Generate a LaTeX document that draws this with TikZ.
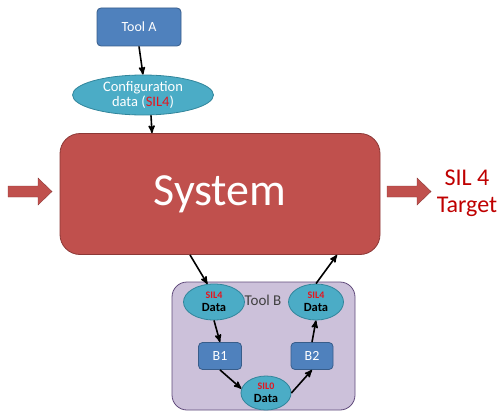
\documentclass[tikz,border=0pt]{standalone}
\usepackage{fontspec}
\setmainfont{Carlito}
\usepackage{tikz}
\usetikzlibrary{arrows,shapes.geometric,calc}
\definecolor{sysred}{RGB}{192,80,77}
\definecolor{sysredline}{RGB}{140,56,54}
\definecolor{toolblue}{RGB}{79,129,189}
\definecolor{toolblueline}{RGB}{56,93,138}
\definecolor{dataaqua}{RGB}{75,172,198}
\definecolor{dataaqualine}{RGB}{49,133,155}
\definecolor{boxlilac}{RGB}{204,193,218}
\definecolor{boxlilacline}{RGB}{96,74,123}
\definecolor{silred}{RGB}{230,20,30}
\tikzset{font={\fontsize{13pt}{15}\selectfont}}
\newcommand{\sildata}[1]{{\fontsize{10pt}{12}\selectfont\textcolor{silred}{#1}}\\Data}
\begin{document}
\begin{tikzpicture}[x=1pt,y=-1pt,->,>=stealth',line width=1.6pt,
    tool node/.style={rectangle,rounded corners=4pt,draw=toolblueline,fill=toolblue,
      text=white,inner sep=0pt,thick},
    data node/.style={ellipse,draw=dataaqualine,fill=dataaqua,inner sep=0pt,align=center,thick},
    small data/.style={data node,font={\fontsize{12.5pt}{13}\selectfont\bfseries}}]

  \useasboundingbox (0,0) rectangle (497,412);

  \node[tool node,minimum width=84pt,minimum height=38pt,font={\fontsize{14pt}{16}\selectfont}] (toolA) at (139,27) {Tool A};
  \node[data node,minimum width=141pt,minimum height=40pt,text=white,font={\fontsize{14.5pt}{15}\selectfont}] (config) at (143,95)
    {Configuration\\data (\textcolor{silred}{SIL4})};

  \node[rectangle,rounded corners=20pt,draw=sysredline,fill=sysred,text=white,thick,
    minimum width=320pt,minimum height=121pt,font={\fontsize{46pt}{50}\selectfont}] (system) at (220,194) {System};

  % block arrows in and out
  \foreach \ax in {8,387}
    \draw[-,draw=sysredline,fill=sysred,thin]
      (\ax,186) -- ++(30,0) -- ++(0,-8) -- ++(14,13.5) -- ++(-14,13.5) -- ++(0,-8) -- ++(-30,0) -- cycle;
  \node[text=red!75!black,align=center,font={\fontsize{24pt}{27}\selectfont}] (target) at (467,193) {SIL 4\\Target};

  \node[rectangle,rounded corners=15pt,draw=boxlilacline,fill=boxlilac,thick,
    minimum width=183pt,minimum height=128pt] (toolB) at (263.5,346) {};
  \node[text=black!75,font={\fontsize{15pt}{17}\selectfont}] (toolBlabel) at (263,300) {Tool B};

  \node[small data,minimum width=61pt,minimum height=36pt] (sil4a) at (214,302) {\sildata{SIL4}};
  \node[small data,minimum width=55pt,minimum height=36pt] (sil4b) at (316,302) {\sildata{SIL4}};
  \node[small data,minimum width=50pt,minimum height=34pt] (sil0) at (266,393) {\sildata{SIL0}};
  \node[tool node,minimum width=43pt,minimum height=27pt,font={\fontsize{14pt}{16}\selectfont}] (b1) at (220,356) {B1};
  \node[tool node,minimum width=42pt,minimum height=27pt,font={\fontsize{14pt}{16}\selectfont}] (b2) at (312,356) {B2};

  \draw (toolA.south) -- (config.north);
  \draw (config.south -| 151,0) -- (system.north -| 152,0);
  \draw ($(system.south)+(-30,0)$) -- (sil4a.110);
  \draw (sil4a.south) -- (b1.north);
  \draw (b1.south) -- (sil0.170);
  \draw (sil0.east) -- (b2.south);
  \draw (b2.north) -- (sil4b.south);
  \draw (sil4b.north) -- ($(system.south)+(117,0)$);
\end{tikzpicture}
\end{document}
